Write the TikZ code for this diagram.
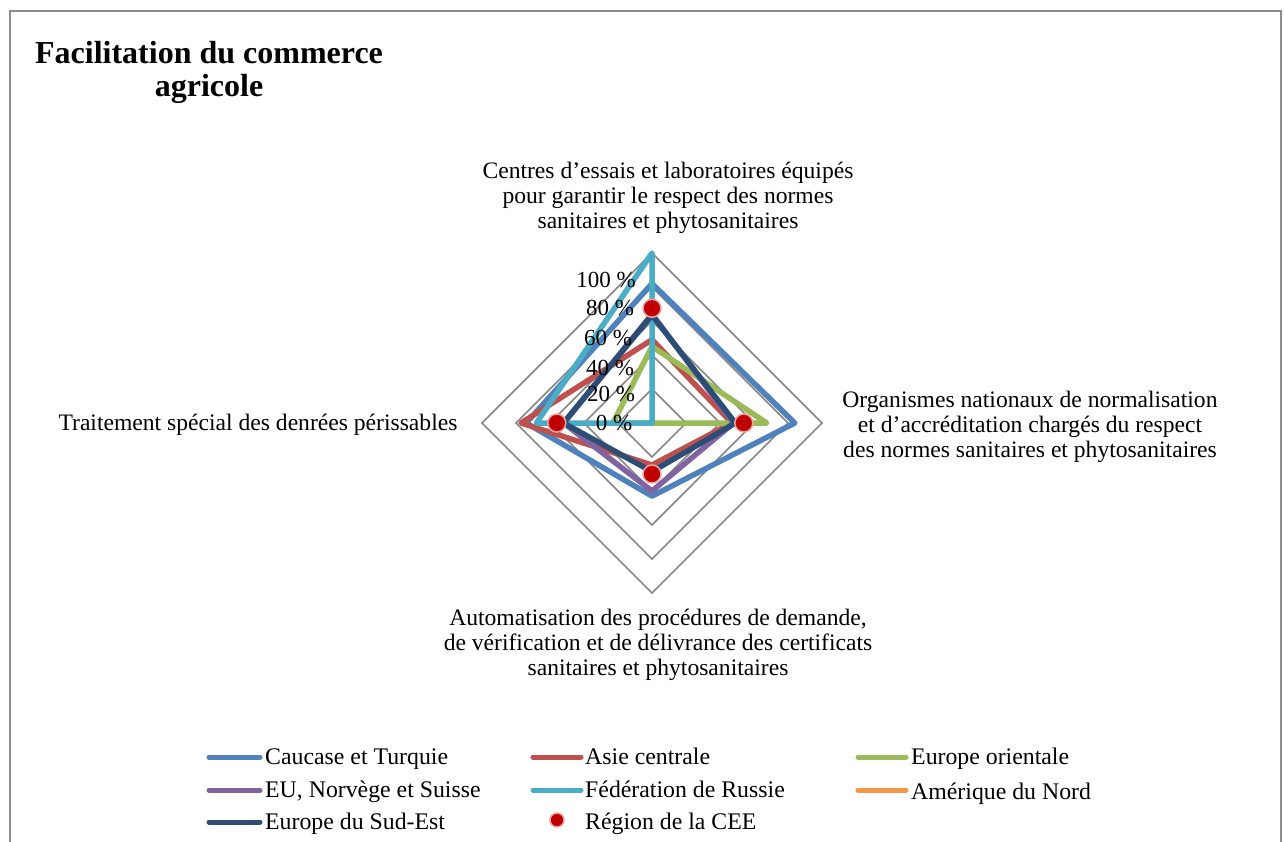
\documentclass[tikz,border=0pt]{standalone}
\usepackage{fontspec}
\setmainfont{Liberation Serif}
\definecolor{caucase}{HTML}{4F81BD}
\definecolor{asie}{HTML}{C0504D}
\definecolor{eurorient}{HTML}{9BBB59}
\definecolor{eunorv}{HTML}{8064A2}
\definecolor{russie}{HTML}{4BACC6}
\definecolor{amerique}{HTML}{F79646}
\definecolor{sudest}{HTML}{2C4D75}
\definecolor{cee}{HTML}{C00000}
\definecolor{ceeedge}{HTML}{E6A5A5}
\definecolor{gridgray}{HTML}{868686}
\definecolor{framegray}{HTML}{8C8C8C}
\newcommand\radarpoly[5]{\draw[#1] (652,{423-#2*1.7}) -- ({652+#3*1.7},423) -- (652,{423+#4*1.7}) -- ({652-#5*1.7},423) -- cycle;}
\begin{document}
\begin{tikzpicture}[x=1pt,y=-1pt,
  gridline/.style={draw=gridgray, line width=1.6pt},
  serie/.style={line width=5.5pt, line join=round, line cap=round},
  lbl/.style={font=\fontsize{23.6}{25}\selectfont, align=center, inner sep=0pt},
  tick/.style={font=\fontsize{23}{24}\selectfont, inner sep=0pt},
  legtxt/.style={font=\fontsize{23.8}{25}\selectfont, anchor=base west, inner sep=0pt},
  legline/.style={line width=5pt, line cap=round},
  ceedot/.style={circle, fill=cee, draw=ceeedge, line width=1.5pt, minimum size=18pt, inner sep=0pt}]
\useasboundingbox (0,0) rectangle (1284,841);
\fill[white] (0,0) rectangle (1284,841);
\draw[framegray, line width=2pt] (10,845) -- (10,11) -- (1281,11) -- (1281,845);
% title
\node[font=\bfseries\fontsize{32}{33}\selectfont, align=center, inner sep=0pt] (title) at (209,72) {Facilitation du commerce\\agricole};
% grid
\foreach \p in {20,40,60,80,100}
  \draw[gridline] (652,{423-\p*1.7}) -- ({652+\p*1.7},423) -- (652,{423+\p*1.7}) -- ({652-\p*1.7},423) -- cycle;
% series
\radarpoly{serie, caucase}{82}{84}{43}{74}
\radarpoly{serie, asie}{49}{47}{24.7}{77}
\radarpoly{serie, eurorient}{45}{67.5}{0}{23}
\radarpoly{serie, eunorv}{64}{48}{40}{52}
\radarpoly{serie, russie}{100}{0}{0}{68}
\radarpoly{serie, sudest}{63.5}{49}{28.6}{52}
\node[ceedot] (d1) at (652,{423-67.5*1.7}) {};
\node[ceedot] (d2) at ({652+54*1.7},423) {};
\node[ceedot] (d3) at (652,{423+30*1.7}) {};
\node[ceedot] (d4) at ({652-56*1.7},423) {};
% ticks
\node[tick] (t100) at (606,280) {100 \%};
\node[tick] (t80) at (610,308) {80 \%};
\node[tick] (t60) at (608,338) {60 \%};
\node[tick] (t40) at (610,368) {40 \%};
\node[tick] (t20) at (611,394) {20 \%};
\node[tick] (t0) at (614,423) {0 \%};
% axis labels
\node[lbl] (ltop) at (668,198) {Centres d’essais et laboratoires équipés\\pour garantir le respect des normes\\sanitaires et phytosanitaires};
\node[lbl] (lright) at (1030,427) {Organismes nationaux de normalisation\\et d’accréditation chargés du respect\\des normes sanitaires et phytosanitaires};
\node[lbl] (lbottom) at (658,645) {Automatisation des procédures de demande,\\de vérification et de délivrance des certificats\\sanitaires et phytosanitaires};
\node[lbl] (lleft) at (258,425) {Traitement spécial des denrées périssables};
% legend
\draw[legline, caucase] (209,757) -- (260,757);
\node[legtxt] (g1) at (265,764) {Caucase et Turquie};
\draw[legline, asie] (533,757) -- (581,757);
\node[legtxt] (g2) at (585,764) {Asie centrale};
\draw[legline, eurorient] (858,757) -- (906,757);
\node[legtxt] (g3) at (911,764) {Europe orientale};
\draw[legline, eunorv] (209,790) -- (260,790);
\node[legtxt] (g4) at (265,797) {EU, Norvège et Suisse};
\draw[legline, russie] (533,790) -- (581,790);
\node[legtxt] (g5) at (585,797) {Fédération de Russie};
\draw[legline, amerique] (858,790) -- (906,790);
\node[legtxt] (g6) at (911,799) {Amérique du Nord};
\draw[legline, sudest] (209,822) -- (260,822);
\node[legtxt] (g7) at (265,829) {Europe du Sud-Est};
\node[ceedot, minimum size=14pt] (gd) at (557,820) {};
\node[legtxt] (g8) at (585,829) {Région de la CEE};
\end{tikzpicture}
\end{document}
